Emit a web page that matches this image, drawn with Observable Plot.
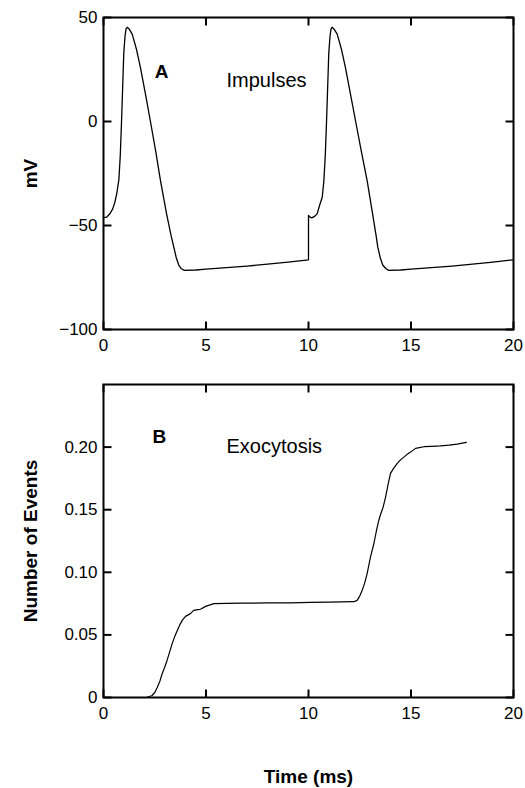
<!DOCTYPE html>
<html><head><meta charset="utf-8">
<script src="https://cdn.jsdelivr.net/npm/d3@7"></script>
<script src="https://cdn.jsdelivr.net/npm/@observablehq/plot@0.6"></script>
<style>
body{margin:0;background:#fff;}
svg{display:block;}
</style>
</head><body><div id="chart"></div>
<script>
// Panel A: membrane potential (mV) vs time (ms)
const timeA = [0,0.15,0.3,0.45,0.55,0.65,0.75,0.82,0.88,0.94,0.99,1.05,1.1,1.16,1.25,1.4,1.6,1.8,2.05,2.29,2.55,2.78,3.07,3.3,3.43,3.55,3.67,3.8,3.95,4.5,5,6,7,8,9,10,
  10,10.08,10.16,10.3,10.42,10.55,10.67,10.75,10.82,10.88,10.94,10.99,11.05,11.1,11.15,11.24,11.4,11.6,11.8,12.05,12.3,12.58,12.86,13.12,13.3,13.38,13.5,13.62,13.78,13.92,14.5,15,16,17,18,19,20];
const mV = [-46.2,-46,-44.5,-42,-39,-34.5,-28,-16,0,18,33,41,44.5,45.3,44.5,42,35,26,13,0,-14.5,-28.4,-44,-55,-60.4,-65.5,-69,-70.8,-71.6,-71.4,-71.0,-70.3,-69.5,-68.6,-67.6,-66.5,
  -45.2,-46,-46.3,-45.6,-44.4,-40,-36.4,-28.4,-16,0,18,33,41,44.5,45.3,44.5,42,35,26,13,0,-14.5,-28.4,-44,-55,-60.4,-65.5,-69,-70.8,-71.6,-71.4,-71.0,-70.3,-69.5,-68.6,-67.6,-66.5];

// Panel B: cumulative number of exocytosis events vs time (ms)
const timeB = [2.1,2.37,2.5,2.62,2.75,2.86,2.98,3.1,3.22,3.35,3.48,3.6,3.72,3.84,4.0,4.24,4.4,4.6,4.73,4.98,5.2,5.38,6,6.68,8,9.12,10.1,11,12.21,12.37,12.5,12.62,12.75,12.86,13.02,13.19,13.32,13.43,13.51,13.64,13.76,13.88,14.0,14.15,14.33,14.5,14.65,14.8,14.98,15.22,15.63,16.0,16.44,16.85,17.25,17.7];
const events = [0,0.0016,0.004,0.008,0.013,0.019,0.024,0.0296,0.036,0.043,0.049,0.0536,0.058,0.0616,0.0648,0.067,0.0696,0.0702,0.0705,0.0728,0.074,0.075,0.0752,0.0754,0.0755,0.0756,0.076,0.0762,0.0765,0.0776,0.081,0.0856,0.092,0.099,0.112,0.123,0.1336,0.1416,0.146,0.152,0.160,0.170,0.179,0.183,0.187,0.190,0.192,0.194,0.196,0.199,0.2003,0.2006,0.201,0.2016,0.2024,0.2038];

const xTicks = [0,5,10,15,20];
const mvTicks = [-100,-50,0,50];
const evTicks = [0,0.05,0.10,0.15,0.20];
const evTickLabels = ["0","0.05","0.10","0.15","0.20"];
const panelLetters = ["A","B"];
const panelTitles = ["Impulses","Exocytosis"];
const xTitle = "Time (ms)";
const yTitles = ["mV","Number of Events"];

const dataA = timeA.map((t,i)=>({t, v: mV[i]}));
const dataB = timeB.map((t,i)=>({t, v: events[i]}));

const FONT = "'Liberation Sans', Arial, Helvetica, sans-serif";
const TICK = 8;
const W = 525, ML = 103, MR = 12;
const FW = W - ML - MR;
const XD = [0,20];

// inward tick segments, expressed in data units via the panel's domains (8 px long)
function tickSegments(yTicks, YD, FH){
  const ky = (YD[1]-YD[0]) * TICK / FH;
  const kx = (XD[1]-XD[0]) * TICK / FW;
  const segs = [];
  xTicks.forEach((v,i) => {
    segs.push({x:v, y:YD[0], k:"b"+i}, {x:v, y:YD[0]+ky, k:"b"+i});
    segs.push({x:v, y:YD[1], k:"t"+i}, {x:v, y:YD[1]-ky, k:"t"+i});
  });
  yTicks.forEach((v,i) => {
    segs.push({x:XD[0], y:v, k:"l"+i}, {x:XD[0]+kx, y:v, k:"l"+i});
    segs.push({x:XD[1], y:v, k:"r"+i}, {x:XD[1]-kx, y:v, k:"r"+i});
  });
  return segs;
}

function frameAxes(yTicks, yFmt, YD, FH){
  return [
    Plot.line(tickSegments(yTicks, YD, FH), {x:"x", y:"y", z:"k", stroke:"#000", strokeWidth:2, strokeLinecap:"butt"}),
    Plot.axisX(xTicks, {anchor:"bottom", tickSize:0, tickPadding:9, fontSize:17, label:null}),
    Plot.axisY(yTicks, {anchor:"left", tickSize:0, tickPadding:6, fontSize:17, tickFormat:yFmt, label:null}),
    Plot.frame({stroke:"#000", strokeWidth:2})
  ];
}

const YDA = [-100,50], YDB = [0,0.25];

const plotA = Plot.plot({
  width:W, height:370,
  marginTop:17, marginBottom:41, marginLeft:ML, marginRight:MR,
  style:{fontFamily:FONT, background:"#fff", color:"#000", overflow:"visible"},
  x:{domain:XD, axis:null},
  y:{domain:YDA, axis:null},
  marks:[
    Plot.line(dataA, {x:"t", y:"v", stroke:"#000", strokeWidth:1.3, curve:"linear"}),
    ...frameAxes(mvTicks, d => d < 0 ? "\u2212" + Math.abs(d) : String(d), YDA, 312),
    Plot.text([panelLetters[0]], {x:2.84, y:24, text:d=>d, fontSize:19, fontWeight:"bold", textAnchor:"middle", lineAnchor:"middle"}),
    Plot.text([panelTitles[0]], {x:6.0, y:19.5, text:d=>d, fontSize:20, textAnchor:"start", lineAnchor:"middle"}),
    Plot.text([yTitles[0]], {frameAnchor:"left", dx:-73, text:d=>d, rotate:-90, fontSize:19, fontWeight:"bold", textAnchor:"middle", lineAnchor:"middle"})
  ]
});

const plotB = Plot.plot({
  width:W, height:418,
  marginTop:14, marginBottom:91, marginLeft:ML, marginRight:MR,
  style:{fontFamily:FONT, background:"#fff", color:"#000", overflow:"visible"},
  x:{domain:XD, axis:null},
  y:{domain:YDB, axis:null},
  marks:[
    Plot.line(dataB, {x:"t", y:"v", stroke:"#000", strokeWidth:1.2, curve:"linear"}),
    ...frameAxes(evTicks, d => evTickLabels[evTicks.indexOf(d)], YDB, 313),
    Plot.text([panelLetters[1]], {x:2.73, y:0.2083, text:d=>d, fontSize:19, fontWeight:"bold", textAnchor:"middle", lineAnchor:"middle"}),
    Plot.text([panelTitles[1]], {x:6.0, y:0.2004, text:d=>d, fontSize:20, textAnchor:"start", lineAnchor:"middle"}),
    Plot.text([yTitles[1]], {frameAnchor:"left", dx:-73, text:d=>d, rotate:-90, fontSize:19, fontWeight:"bold", textAnchor:"middle", lineAnchor:"middle"}),
    Plot.text([xTitle], {frameAnchor:"bottom", dy:79, text:d=>d, fontSize:19, fontWeight:"bold", textAnchor:"middle", lineAnchor:"middle"})
  ]
});

const root = document.getElementById("chart");
root.appendChild(plotA);
root.appendChild(plotB);
</script>
</body></html>
